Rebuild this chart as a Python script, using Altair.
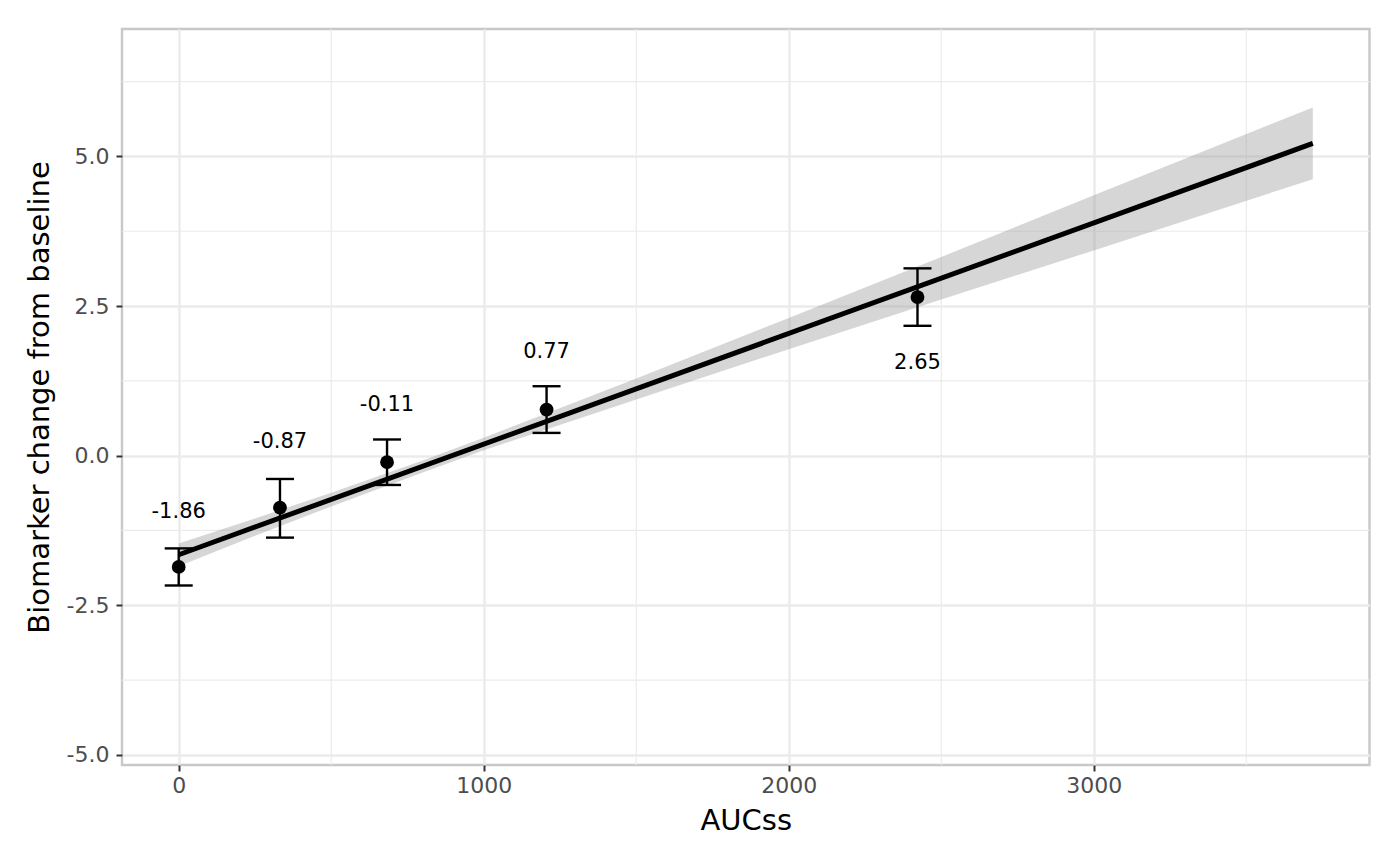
import altair as alt
import pandas as pd

# ---- data ----
auc = [0, 332, 683, 1206, 2422]
mean = [-1.86, -0.87, -0.11, 0.77, 2.65]
lo = [-2.17, -1.37, -0.49, 0.38, 2.17]
hi = [-1.55, -0.39, 0.27, 1.16, 3.13]
label_txt = ["-1.86", "-0.87", "-0.11", "0.77", "2.65"]
label_y = [-0.94, 0.22, 0.85, 1.74, 1.55]

fit_x = [0, 3718]
fit_y = [-1.656, 5.217]

band_x = [0, 250, 500, 800, 1000, 1500, 2000, 2500, 3000, 3718]
band_lo = [-1.85, -1.34, -0.85, -0.28, 0.09, 0.94, 1.78, 2.61, 3.43, 4.62]
band_hi = [-1.47, -1.05, -0.62, -0.08, 0.30, 1.29, 2.30, 3.32, 4.35, 5.82]

x_major = [0, 1000, 2000, 3000]
x_minor = [500, 1500, 2500, 3500]
y_major = [-5.0, -2.5, 0.0, 2.5, 5.0]
y_minor = [-3.75, -1.25, 1.25, 3.75, 6.25]

X_DOMAIN = [-185.9, 3903.9]
Y_DOMAIN = [-5.17, 7.13]

pts = pd.DataFrame({"auc": auc, "mean": mean, "lo": lo, "hi": hi,
                    "txt": label_txt, "ly": label_y})
fit = pd.DataFrame({"x": fit_x, "y": fit_y})
band = pd.DataFrame({"x": band_x, "lo": band_lo, "hi": band_hi})
xmin = pd.DataFrame({"v": x_minor})
ymin = pd.DataFrame({"v": y_minor})

xscale = alt.Scale(domain=X_DOMAIN, nice=False, zero=False)
yscale = alt.Scale(domain=Y_DOMAIN, nice=False, zero=False)

GRID = "#EBEBEB"

xaxis = alt.Axis(values=x_major, title="AUCss", grid=True, gridColor=GRID,
                 gridWidth=2.4, domain=False, tickColor="#333333",
                 tickSize=6, tickWidth=2, labelFontSize=22,
                 labelColor="#4D4D4D", labelPadding=4, labelFont="DejaVu Sans",
                 titleFont="DejaVu Sans", titleFontSize=29,
                 titleFontWeight="normal", titleColor="#000000",
                 titleBaseline="alphabetic", titleY=64, format="d")
yaxis = alt.Axis(values=y_major, title="Biomarker change from baseline",
                 grid=True, gridColor=GRID, gridWidth=2.4, domain=False,
                 tickColor="#333333", tickSize=6, tickWidth=2,
                 labelFontSize=22, labelColor="#4D4D4D", labelPadding=7,
                 labelFont="DejaVu Sans",
                 labelExpr="datum.value < 0 ? '-' + format(-datum.value, '.1f') : format(datum.value, '.1f')",
                 titleFont="DejaVu Sans", titleFontSize=29,
                 titleFontWeight="normal", titleColor="#000000",
                 titleBaseline="alphabetic", titleX=-74, titleAngle=-90)


def X(field):
    return alt.X(field, scale=xscale, axis=xaxis, title="AUCss")


def Y(field):
    return alt.Y(field, scale=yscale, axis=yaxis,
                 title="Biomarker change from baseline")


minor_x = alt.Chart(xmin).mark_rule(color=GRID, strokeWidth=1.2).encode(
    x=X("v:Q"))
minor_y = alt.Chart(ymin).mark_rule(color=GRID, strokeWidth=1.2).encode(
    y=Y("v:Q"))

band_layer = alt.Chart(band).mark_area(color="#999999", opacity=0.4).encode(
    x=X("x:Q"), y=Y("lo:Q"), y2="hi:Q")

line_layer = alt.Chart(fit).mark_line(color="#000000", strokeWidth=5).encode(
    x=X("x:Q"), y=Y("y:Q"))

err = alt.Chart(pts).mark_rule(color="#000000", strokeWidth=2.4).encode(
    x=X("auc:Q"), y=Y("lo:Q"), y2="hi:Q")
cap_lo = alt.Chart(pts).mark_tick(color="#000000", thickness=2.4, size=28,
                                  orient="horizontal", opacity=1).encode(
    x=X("auc:Q"), y=Y("lo:Q"))
cap_hi = alt.Chart(pts).mark_tick(color="#000000", thickness=2.4, size=28,
                                  orient="horizontal", opacity=1).encode(
    x=X("auc:Q"), y=Y("hi:Q"))
points = alt.Chart(pts).mark_circle(color="#000000", size=190, opacity=1).encode(
    x=X("auc:Q"), y=Y("mean:Q"))
labels = alt.Chart(pts).mark_text(color="#000000", fontSize=21,
                                  font="DejaVu Sans", baseline="middle",
                                  align="center").encode(
    x=X("auc:Q"), y=Y("ly:Q"), text="txt:N")

chart = alt.layer(
    minor_x, minor_y, band_layer, line_layer, err, cap_lo, cap_hi,
    points, labels
).properties(
    width=1247.5, height=736,
    autosize=alt.AutoSizeParams(type="none"),
    padding={"left": 114, "top": 21, "right": 20, "bottom": 75},
    background="#FFFFFF",
).configure_view(
    stroke="#C8C8C8", strokeWidth=2.4, fill="#FFFFFF"
)

chart.save("out.html", embed_options={"renderer": "svg", "actions": False})
